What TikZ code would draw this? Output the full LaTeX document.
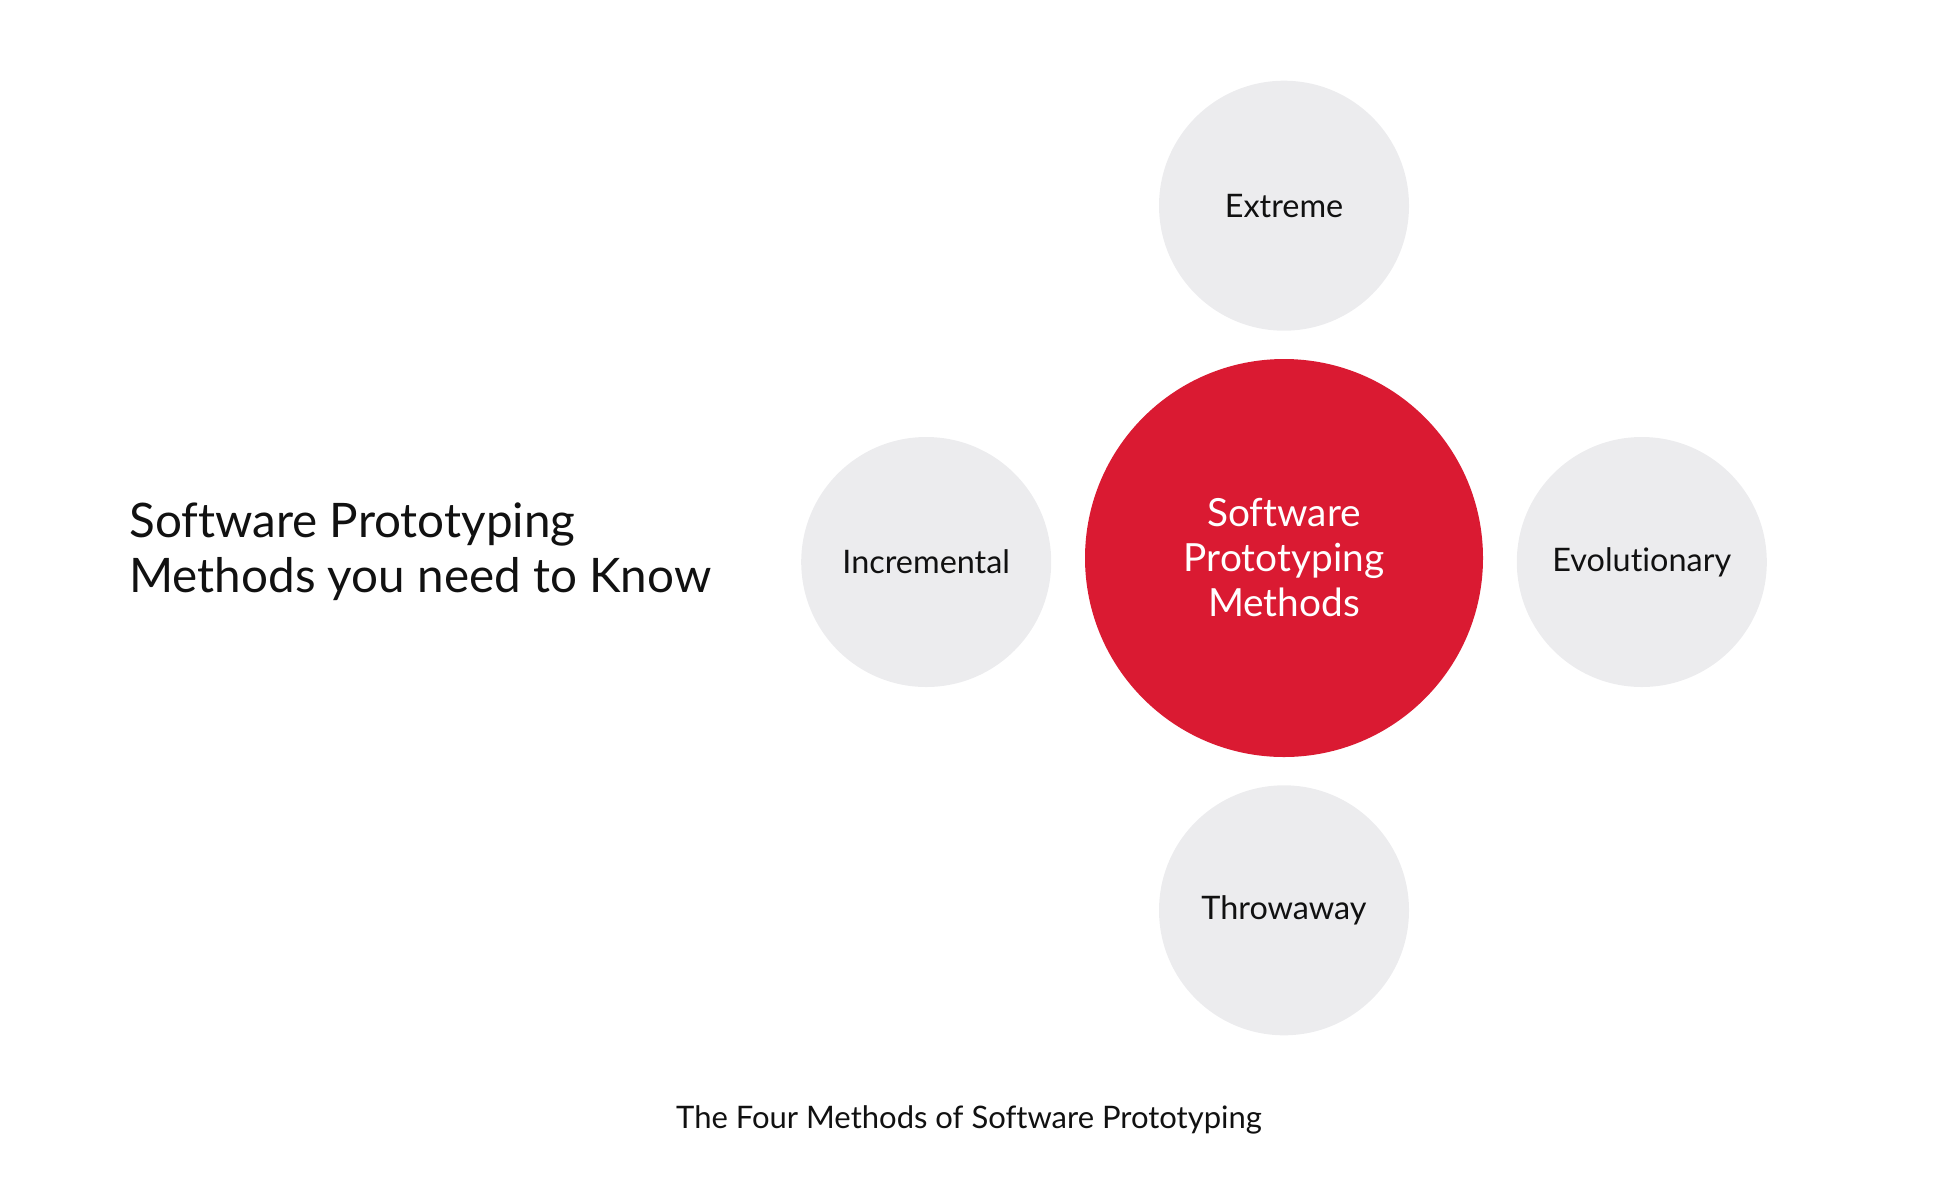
\documentclass[tikz,border=0pt]{standalone}
\usepackage{fontspec}
\setmainfont{Lato}[Ligatures=NoCommon]
\usepackage{xcolor}
\definecolor{brand}{HTML}{DA1A32}
\definecolor{pale}{HTML}{ECECEE}
\definecolor{ink}{HTML}{111111}
\usetikzlibrary{positioning}
\tikzset{
  hub/.style={circle,fill=brand,minimum size=199pt,inner sep=0pt,align=center,text=white,font=\fontsize{19.4}{22.5}\selectfont},
  leaf/.style={circle,fill=pale,minimum size=125pt,inner sep=0pt,align=center,text=ink,font=\fontsize{16.2}{19}\selectfont},
  head/.style={anchor=base west,align=left,text=ink,inner sep=0pt,font=\fontsize{23.8}{27.5}\selectfont},
  captxt/.style={anchor=base,text=ink,inner sep=0pt,font=\fontsize{15.5}{18}\selectfont},
}
\begin{document}
\begin{tikzpicture}[x=0.5pt,y=-0.5pt,node distance=13.75pt and 16.5pt]
\useasboundingbox (0,0) rectangle (1936,1200);
\node[hub] (core) at (1284,558) {Software\\Prototyping\\Methods};
\node[leaf,above=of core] (extreme) {Extreme};
\node[leaf,below=of core] (throw) {Throwaway};
\node[leaf,left=of core,yshift=-2pt] (incr) {Incremental};
\node[leaf,right=of core,yshift=-2pt] (evol) {Evolutionary};
% base of a two-line node sits on its last line
\node[head] (title) at (129,592) {Software Prototyping\\Methods you need to Know};
\node[captxt] (caption) at (969,1128) {The Four Methods of Software Prototyping};
\end{tikzpicture}
\end{document}
